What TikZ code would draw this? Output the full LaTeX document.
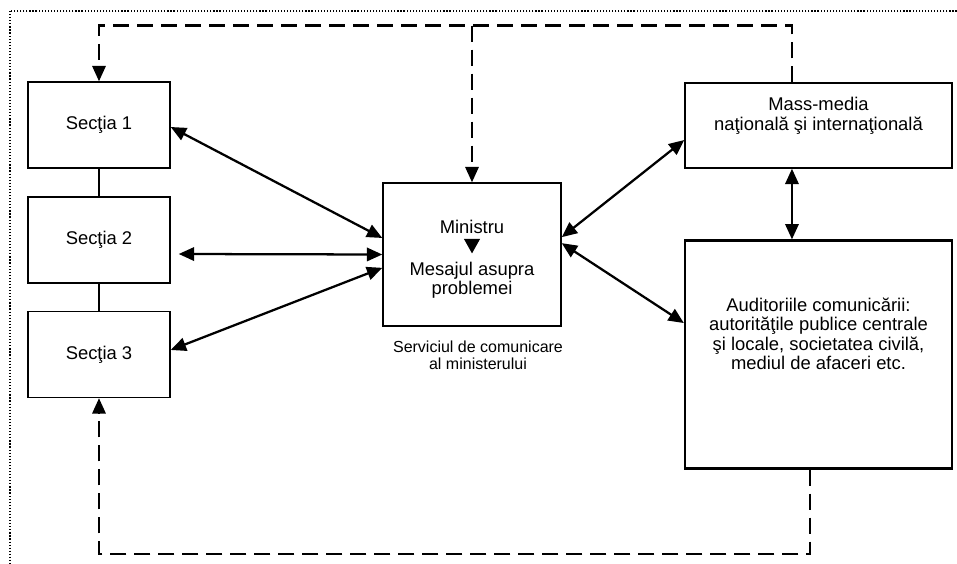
\documentclass[tikz,border=0pt]{standalone}
\usepackage{fontspec}
\setmainfont{Liberation Sans}
\usetikzlibrary{arrows.meta}

\begin{document}
\begin{tikzpicture}[x=0.75pt,y=-0.75pt,
  box/.style={draw,line width=1.1pt,inner sep=0pt,align=center,font=\fontsize{13.8}{14.6}\selectfont},
  lbl/.style={inner sep=0pt,align=center,font=\fontsize{13.8}{14.6}\selectfont},
  link/.style={line width=1.7pt,{Triangle[length=11.5pt,width=10pt]}-{Triangle[length=11.5pt,width=10pt]}},
  feedback/.style={line width=1.6pt,dash pattern=on 12pt off 6pt,-{Triangle[length=11.5pt,width=10pt]}}]
\useasboundingbox (0,0) rectangle (957,564);
\draw[line width=0.9pt,dash pattern=on 0.9pt off 1.4pt] (10,11) rectangle (965,572);

\node[box,minimum width=106.5pt,minimum height=64.5pt] (s1) at (99,125) {Secţia 1};
\node[box,minimum width=106.5pt,minimum height=64.5pt] (s2) at (99,240) {Secţia 2};
\node[box,minimum width=106.5pt,minimum height=64.5pt] (s3) at (99,354.5) {Secţia 3};
\node[box,minimum width=133.5pt,minimum height=107.25pt] (min) at (472,254.5) {};
\node[lbl] (minname) at (472,227) {Ministru};
\node[lbl] (msg) at (472,280) {Mesajul asupra\\problemei};
\node[inner sep=0pt,align=center,font=\fontsize{12}{12.75}\selectfont] (srv) at (478,355) {Serviciul de comunicare\\al ministerului};
\node[box,minimum width=200.25pt,minimum height=63.75pt] (mm) at (818.5,125.5) {};
\node[lbl] (mmtext) at (818.5,116) {Mass-media\\naţională şi internaţională};
\node[box,line width=1.7pt,minimum width=200.25pt,minimum height=171pt] (aud) at (818.5,354.5) {};
\node[lbl] (audtext) at (818.5,334) {Auditoriile comunicării:\\autorităţile publice centrale\\şi locale, societatea civilă,\\mediul de afaceri etc.};

\draw[line width=1.1pt] (s1.south) -- (s2.north);
\draw[line width=1.1pt] (s2.south) -- (s3.north);
\draw[line width=1pt,shorten <=10pt,shorten >=6pt,-{Triangle[length=11pt,width=12pt]}] (minname) -- (msg);

\draw[link] ([yshift=-1.5pt]s1.east) -- ([yshift=12.4pt]min.west);
\draw[link] ([shift={(6pt,-10.5pt)}]s2.east) -- (min.west);
\draw[link] ([yshift=3.4pt]s3.east) -- ([yshift=-10pt]min.west);
\draw[link] ([yshift=13pt]min.east) -- ([yshift=-10.9pt]mm.west);
\draw[link] ([yshift=8.5pt]min.east) -- ([yshift=23.6pt]aud.west);
\draw[link] ([xshift=-19.9pt]mm.south) -- ([xshift=-19.9pt]aud.north);

% dashed feedback loops
\coordinate (top) at (0,25.5);
\coordinate (bot) at (0,554);
\draw[feedback] ([xshift=-19.9pt]mm.north) -- ([xshift=-19.9pt]mm.north |- top) -| (s1.north);
\draw[feedback] (min.north |- top) -- (min.north);
\draw[feedback] ([xshift=-6.4pt]aud.south) -- ([xshift=-6.4pt]aud.south |- bot) -| (s3.south);
\end{tikzpicture}
\end{document}
